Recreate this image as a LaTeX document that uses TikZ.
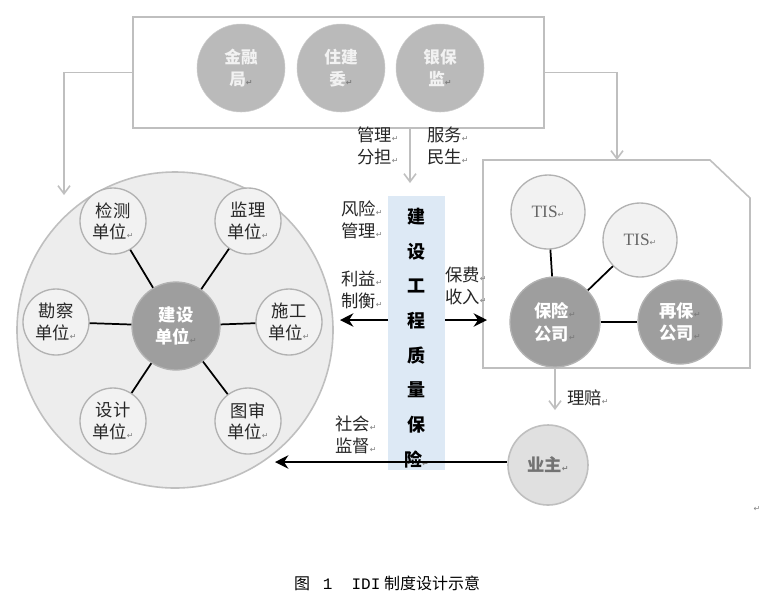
\documentclass[tikz,border=0pt]{standalone}
\usepackage{fontspec}
\setmainfont{Noto Sans CJK SC}
\newfontfamily\dvs{DejaVu Sans}
\newfontfamily\tisf{Liberation Serif}
\newfontfamily\capf{Liberation Mono}
\usetikzlibrary{arrows.meta}
\definecolor{ctrblue}{HTML}{DDE9F5}
\newcommand{\rt}{{\dvs\fontsize{6}{6}\selectfont\textcolor{gray}{↵}}}
\begin{document}
\begin{tikzpicture}[x=0.75pt,y=-0.75pt,
  gline/.style={draw=black!25,line width=1.2pt},
  garrow/.style={draw=black!25,line width=1.2pt,-{Straight Barb[length=6pt,width=9pt]}},
  topc/.style={circle,fill=black!27,draw=black!20,minimum size=88*0.75pt,text=white!90!gray,font=\fontsize{12.5}{16}\selectfont\bfseries,align=center,inner sep=0},
  sat/.style={circle,fill=black!5,draw=black!30,line width=1pt,minimum size=66*0.75pt,font=\fontsize{13}{16}\selectfont,text=black!85,align=center,inner sep=0},
  dark/.style={circle,fill=black!38,draw=black!30,line width=1pt,text=white,font=\fontsize{13}{17}\selectfont\bfseries,align=center,inner sep=0},
  lab/.style={font=\fontsize{13}{16}\selectfont,text=black!85,align=left,inner sep=0},
  bl/.style={draw=black,line width=1.3pt}]
\useasboundingbox (0,0) rectangle (774,612);
% top box
\node[draw=black!25,line width=1.2pt,minimum width=411*0.75pt,minimum height=111*0.75pt] (top) at (338.5,72.5) {};
\node[topc] (jr) at (241,68) {金融\\局\rt};
\node[topc] (zj) at (341,68) {住建\\委\rt};
\node[topc] (yb) at (440,68) {银保\\监\rt};
% big left circle
\node[circle,fill=black!7,draw=black!25,line width=1.2pt,minimum size=316*0.75pt] (big) at (175,330) {};
\node[dark,minimum size=88*0.75pt] (js) at (176,326) {建设\\单位\rt};
\node[sat] (jc) at (113,221) {检测\\单位\rt};
\node[sat] (jl) at (248,221) {监理\\单位\rt};
\node[sat] (kc) at (56,322) {勘察\\单位\rt};
\node[sat] (sg) at (289,322) {施工\\单位\rt};
\node[sat] (sj) at (113,421) {设计\\单位\rt};
\node[sat] (ts) at (248,421) {图审\\单位\rt};
\foreach \s in {jc,jl,kc,sg,sj,ts} \draw[bl] (js) -- (\s);
% right box
\draw[gline] (483,160) -- (710,160) -- (750,198) -- (750,368) -- (483,368) -- cycle;
\coordinate (rbtop) at (617,160);
\node[sat,minimum size=74*0.75pt,font=\tisf\fontsize{13}{16}\selectfont,text=black!60] (t1) at (548,212) {TIS\rt};
\node[sat,minimum size=74*0.75pt,font=\tisf\fontsize{13}{16}\selectfont,text=black!60] (t2) at (640,240) {TIS\rt};
\node[dark,minimum size=90*0.75pt] (bx) at (555,322) {保险\rt\\公司\rt};
\node[dark,minimum size=84*0.75pt] (zb) at (680,322) {再保\rt\\公司\rt};
\draw[bl] (t1) -- (bx); \draw[bl] (t2) -- (bx); \draw[bl] (bx) -- (zb);
% owner
\node[circle,fill=black!12,draw=black!25,line width=1.2pt,minimum size=80*0.75pt,text=black!55,font=\fontsize{13}{16}\selectfont\bfseries,inner sep=0] (yz) at (548,465) {业主\rt};
% center
\node[fill=ctrblue,minimum width=57*0.75pt,minimum height=274*0.75pt,inner sep=0] (ctr) at (416.5,333) {};
\node[font=\fontsize{13.5}{26}\selectfont\bfseries,align=center] at (416.5,338) {建\\设\\工\\程\\质\\量\\保\\险\rt};
% gray arrows
\coordinate (lc) at (64,195);
\draw[garrow] (top.west) -- (64,72.5) -- (lc);
\draw[garrow] (top.east) -- (617,72.5) -- (rbtop);
\coordinate (mt) at (410,183);
\draw[garrow] (410,128) -- (mt);
\coordinate (ylt) at (555,410);
\draw[garrow] (555,368) -- (ylt);
% black arrows
\coordinate (la) at (340,320); \coordinate (ra) at (487,320); \coordinate (ba) at (275,462);
\draw[bl,line width=1.6pt,-{Stealth[length=10pt,width=10pt]}] (ctr.west|-la) -- (la);
\draw[bl,line width=1.6pt,-{Stealth[length=10pt,width=10pt]}] (ctr.east|-ra) -- (ra);
\draw[draw=black,line width=1.6pt,-{Stealth[length=10pt,width=10pt]}] (yz.west|-ba) -- (ba);
% labels
\node[lab] at (378,146) {管理\rt\\分担\rt};
\node[lab] at (448,146) {服务\rt\\民生\rt};
\node[lab] at (362,220) {风险\rt\\管理\rt};
\node[lab] at (362,290) {利益\rt\\制衡\rt};
\node[lab] at (466,286) {保费\rt\\收入\rt};
\node[lab] at (356,435) {社会\rt\\监督\rt};
\node[lab] at (588,398) {理赔\rt};
\node[lab] at (757,509) {\rt};
\node[font=\fontsize{12}{14}\selectfont] at (387,583) {图\hspace{0.8em}{\capf 1}\hspace{1.2em}{\capf IDI} 制度设计示意};
\end{tikzpicture}
\end{document}
